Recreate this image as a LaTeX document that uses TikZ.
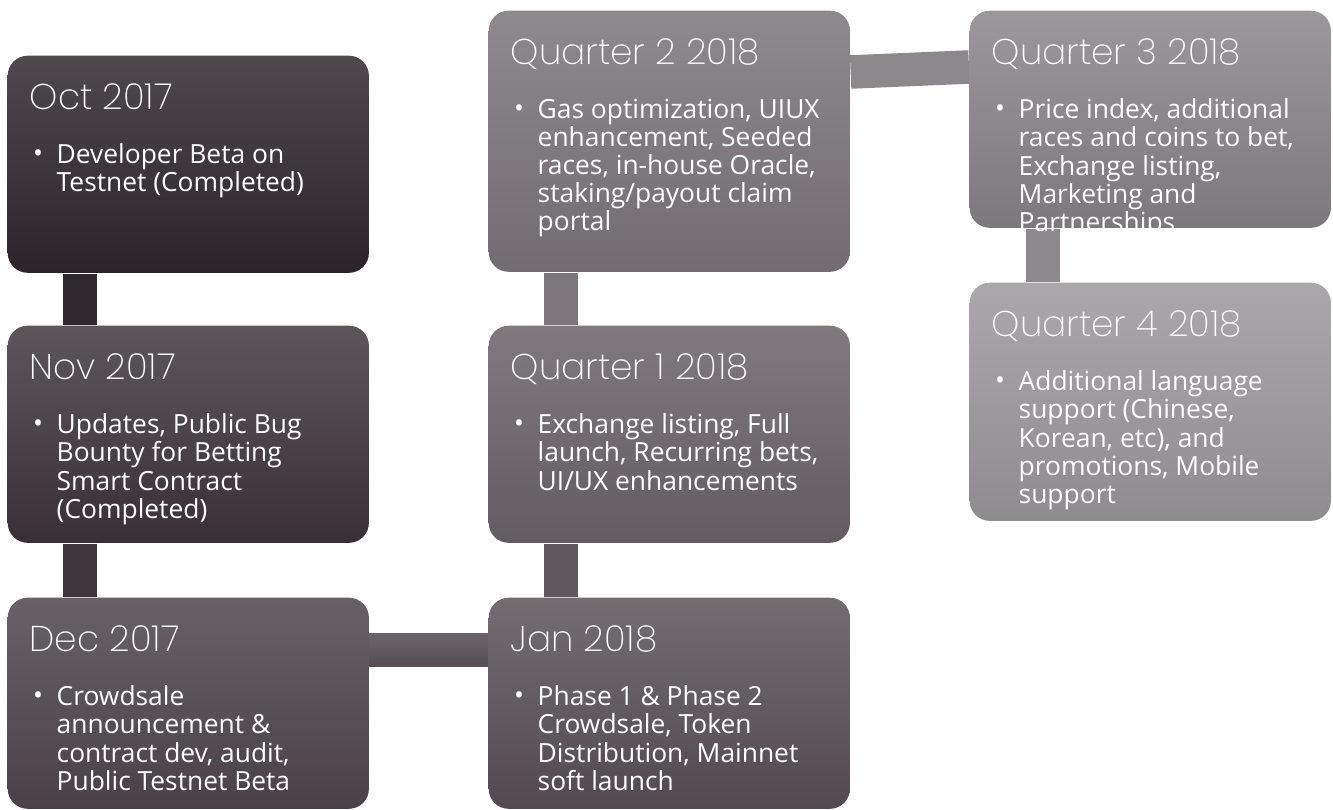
\documentclass[tikz,border=0pt]{standalone}
\usepackage{fontspec}
\setmainfont{Open Sans}
\newfontfamily\headfont{Poppins}[UprightFont={* ExtraLight}]
\usetikzlibrary{backgrounds}
\definecolor{octtop}{HTML}{4F494D}
\definecolor{octbot}{HTML}{2B2428}
\definecolor{novtop}{HTML}{5C565A}
\definecolor{novbot}{HTML}{393036}
\definecolor{dectop}{HTML}{676167}
\definecolor{decbot}{HTML}{4A4148}
\definecolor{jantop}{HTML}{736D72}
\definecolor{janbot}{HTML}{51494F}
\definecolor{qonetop}{HTML}{807A7F}
\definecolor{qonebot}{HTML}{625B61}
\definecolor{qtwotop}{HTML}{8E898D}
\definecolor{qtwobot}{HTML}{726C71}
\definecolor{qthreetop}{HTML}{9B979A}
\definecolor{qthreebot}{HTML}{7C787B}
\definecolor{qfourtop}{HTML}{AAA8AA}
\definecolor{qfourbot}{HTML}{8E8C8E}
\definecolor{linkoct}{HTML}{2F282C}
\definecolor{linknov}{HTML}{40373E}
\definecolor{linkdectop}{HTML}{6A646A}
\definecolor{linkdecbot}{HTML}{564D55}
\definecolor{linkjan}{HTML}{5F585E}
\definecolor{linkqone}{HTML}{7C767B}
\definecolor{linkqtwo}{HTML}{8D888C}
\definecolor{linkqthree}{HTML}{8D898D}

\begin{document}
\begin{tikzpicture}[x=0.01cm, y=-0.01cm,
    box/.style={anchor=north west, rounded corners=0.2cm, minimum width=3.61cm, inner sep=0},
    head/.style={anchor=base west, inner sep=0, text=white, font=\headfont\fontsize{10.2}{12}\selectfont},
    item/.style={anchor=north west, inner sep=0, text=white, align=left, font=\fontsize{7.5}{8}\selectfont, execute at begin node=\strut},
    dot/.style={anchor=base, inner sep=0, text=white, font=\fontsize{7.5}{8}\selectfont},
    link/.style={line width=0.335cm}]
    \useasboundingbox (0,0) rectangle (1333,810);

    % 2017 column
    \node[box, minimum height=2.17cm, top color=octtop, bottom color=octbot] (oct) at (7,55) {};
    \node[box, minimum height=2.17cm, top color=novtop, bottom color=novbot] (nov) at (7,325) {};
    \node[box, minimum height=2.11cm, top color=dectop, bottom color=decbot] (dec) at (7,597) {};

    % 2018 column
    \node[box, minimum height=2.11cm, top color=jantop, bottom color=janbot] (jan) at (488,597) {};
    \node[box, minimum height=2.17cm, top color=qonetop, bottom color=qonebot] (qone) at (488,325) {};
    \node[box, minimum height=2.61cm, top color=qtwotop, bottom color=qtwobot] (qtwo) at (488,10) {};

    % last column
    \node[box, minimum height=2.17cm, top color=qthreetop, bottom color=qthreebot] (qthree) at (969,10) {};
    \node[box, minimum height=2.38cm, top color=qfourtop, bottom color=qfourbot] (qfour) at (969,282) {};

    % Links behind the boxes
    \begin{scope}[on background layer]
        \draw[link, linkoct] ([shift={(73,0)}]oct.south west) -- ([shift={(73,0)}]nov.north west);
        \draw[link, linknov] ([shift={(73,0)}]nov.south west) -- ([shift={(73,0)}]dec.north west);
        \shade[top color=linkdectop, bottom color=linkdecbot] ([shift={(-10,37)}]dec.north east) rectangle ([shift={(10,70)}]jan.north west);
        \draw[link, linkjan] ([shift={(73,0)}]jan.north west) -- ([shift={(73,0)}]qone.south west);
        \draw[link, linkqone] ([shift={(73,0)}]qone.north west) -- ([shift={(73,0)}]qtwo.south west);
        \draw[link, linkqtwo] ([shift={(0,62)}]qtwo.north east) -- ([shift={(0,57)}]qthree.north west);
        \draw[link, linkqthree] ([shift={(74,0)}]qthree.south west) -- ([shift={(74,0)}]qfour.north west);
    \end{scope}

    % Texts
    \node[head] (octhead) at ([shift={(22,55)}]oct.north west) {Oct 2017};
    \node[dot] (octdot) at ([shift={(31,108)}]oct.north west) {\textbullet};
    \node[item] (octitem) at ([shift={(49,88)}]oct.north west) {Developer Beta on\\Testnet (Completed)};

    \node[head] (novhead) at ([shift={(22,55)}]nov.north west) {Nov 2017};
    \node[dot] (novdot) at ([shift={(31,108)}]nov.north west) {\textbullet};
    \node[item] (novitem) at ([shift={(49,88)}]nov.north west) {Updates, Public Bug\\Bounty for Betting\\Smart Contract\\(Completed)};

    \node[head] (dechead) at ([shift={(22,55)}]dec.north west) {Dec 2017};
    \node[dot] (decdot) at ([shift={(31,108)}]dec.north west) {\textbullet};
    \node[item] (decitem) at ([shift={(49,88)}]dec.north west) {Crowdsale\\announcement \&\\contract dev, audit,\\Public Testnet Beta};

    \node[head] (janhead) at ([shift={(22,55)}]jan.north west) {Jan 2018};
    \node[dot] (jandot) at ([shift={(31,108)}]jan.north west) {\textbullet};
    \node[item] (janitem) at ([shift={(49,88)}]jan.north west) {Phase 1 \& Phase 2\\Crowdsale, Token\\Distribution, Mainnet\\soft launch};

    \node[head] (qonehead) at ([shift={(22,55)}]qone.north west) {Quarter 1 2018};
    \node[dot] (qonedot) at ([shift={(31,108)}]qone.north west) {\textbullet};
    \node[item] (qoneitem) at ([shift={(49,88)}]qone.north west) {Exchange listing, Full\\launch, Recurring bets,\\UI/UX enhancements};

    \node[head] (qtwohead) at ([shift={(22,55)}]qtwo.north west) {Quarter 2 2018};
    \node[dot] (qtwodot) at ([shift={(31,108)}]qtwo.north west) {\textbullet};
    \node[item] (qtwoitem) at ([shift={(49,88)}]qtwo.north west) {Gas optimization, UIUX\\enhancement, Seeded\\races, in-house Oracle,\\staking/payout claim\\portal};

    \node[head] (qthreehead) at ([shift={(22,55)}]qthree.north west) {Quarter 3 2018};
    \node[dot] (qthreedot) at ([shift={(31,108)}]qthree.north west) {\textbullet};
    \node[item] (qthreeitem) at ([shift={(49,88)}]qthree.north west) {Price index, additional\\races and coins to bet,\\Exchange listing,\\Marketing and\\Partnerships};

    \node[head] (qfourhead) at ([shift={(22,55)}]qfour.north west) {Quarter 4 2018};
    \node[dot] (qfourdot) at ([shift={(31,108)}]qfour.north west) {\textbullet};
    \node[item] (qfouritem) at ([shift={(49,88)}]qfour.north west) {Additional language\\support (Chinese,\\Korean, etc), and\\promotions, Mobile\\support};
\end{tikzpicture}
\end{document}
